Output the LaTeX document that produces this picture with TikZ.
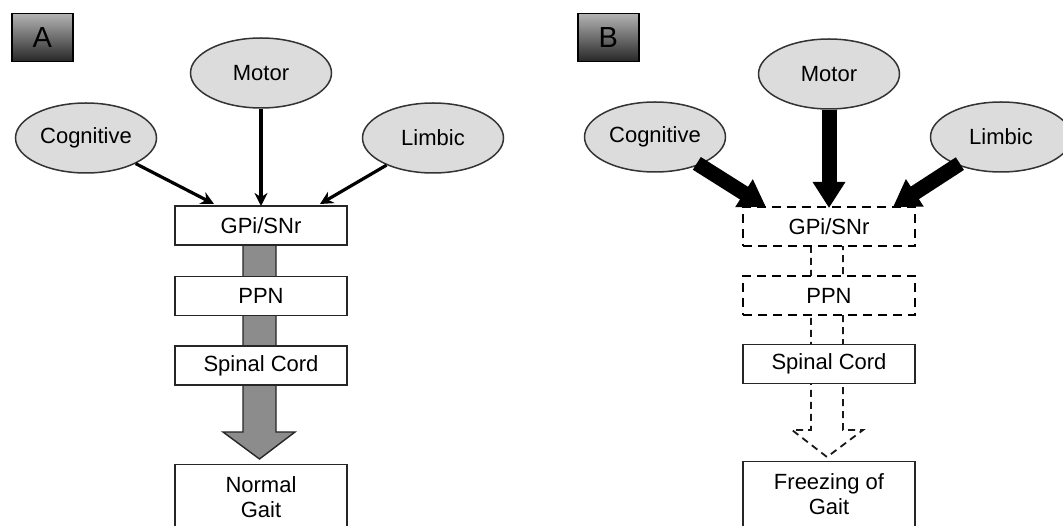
\documentclass[tikz,border=0pt]{standalone}
\usepackage{fontspec}
\setmainfont{Liberation Sans}
\usetikzlibrary{arrows.meta,shapes.geometric,calc}
\definecolor{ellfill}{HTML}{DCDCDC}
\definecolor{arrgray}{HTML}{8C8C8C}
\begin{document}
\begin{tikzpicture}[x=1pt,y=-1pt,
  lbl/.style={draw=black,line width=1.5pt,top color=black!30,bottom color=black!85,minimum width=61pt,minimum height=48pt,inner sep=0pt,font=\fontsize{29}{30}\selectfont,anchor=north west},
  ell/.style={ellipse,draw=black!80,line width=1.5pt,fill=ellfill,minimum width=141pt,minimum height=70pt,inner sep=0pt,font=\fontsize{22}{25}\selectfont},
  stage/.style={draw=black!85,line width=1.4pt,fill=white,minimum width=172pt,minimum height=39pt,inner sep=0pt,font=\fontsize{22}{25}\selectfont},
  dstage/.style={stage,draw=black,dash pattern=on 9pt off 6pt,line width=2pt},
  gait/.style={stage,minimum height=72pt,anchor=north,align=center,text depth=7pt,font=\fontsize{22}{25}\selectfont},
  thin/.style={line width=3.2pt,-{Stealth[length=13pt,width=13pt]}},
  thick/.style={line width=15pt,-{Triangle[length=26pt,width=31pt]}}
]
\useasboundingbox (0,0) rectangle (1063,526);
\clip (0,0) rectangle (1063,526);

% ---------- Panel A ----------
\node[lbl] (labA) at (11,13) {A};
\node[ell] (motA) at (261,73) {Motor};
\node[ell] (cogA) at (86,138) {Cognitive};
\node[ell] (limA) at (433,138) {Limbic};

% big gray arrow behind boxes
\draw[line width=1.4pt,draw=black!85,fill=arrgray]
  (243,240) -- (243,432) -- (223,432) -- (259.5,459) -- (295,432) -- (276,432) -- (276,240) -- cycle;

\node[stage] (gpiA) at (261,225.5) {GPi/SNr};
\node[stage] (ppnA) at (261,296) {PPN};
\node[stage] (spiA) at (261,365.5) {Spinal Cord};
\node[gait] (gaitA) at (261,464) {Normal\\Gait};

\coordinate (tCogA) at (214,204);
\coordinate (tMotA) at (261,206);
\coordinate (tLimA) at (320,204);
\draw[thin] (cogA) -- (tCogA);
\draw[thin] (motA) -- (tMotA);
\draw[thin] (limA) -- (tLimA);

% ---------- Panel B ----------
\node[lbl] (labB) at (577,13) {B};
\node[ell] (motB) at (829,74) {Motor};
\node[ell] (cogB) at (655,137) {Cognitive};
\node[ell] (limB) at (1001,137) {Limbic};

% dashed hollow arrow behind boxes
\draw[line width=1.8pt,draw=black!90,dash pattern=on 7pt off 5pt]
  (811,246) -- (811,430) -- (792,430) -- (827,457) -- (863,430) -- (843,430) -- (843,246);

\node[dstage] (gpiB) at (829,226.5) {GPi/SNr};
\node[dstage] (ppnB) at (829,296) {PPN};
\node[stage] (spiB) at (829,364) {Spinal Cord};
\node[gait] (gaitB) at (829,461) {Freezing of\\Gait};

\coordinate (tCogB) at (766,207);
\coordinate (tMotB) at (829,208);
\coordinate (tLimB) at (893,207);
\draw[thick,shorten <=-3pt] (cogB) -- (tCogB);
\draw[thick] (motB) -- (tMotB);
\draw[thick,shorten <=-3pt] (limB) -- (tLimB);
\end{tikzpicture}
\end{document}
